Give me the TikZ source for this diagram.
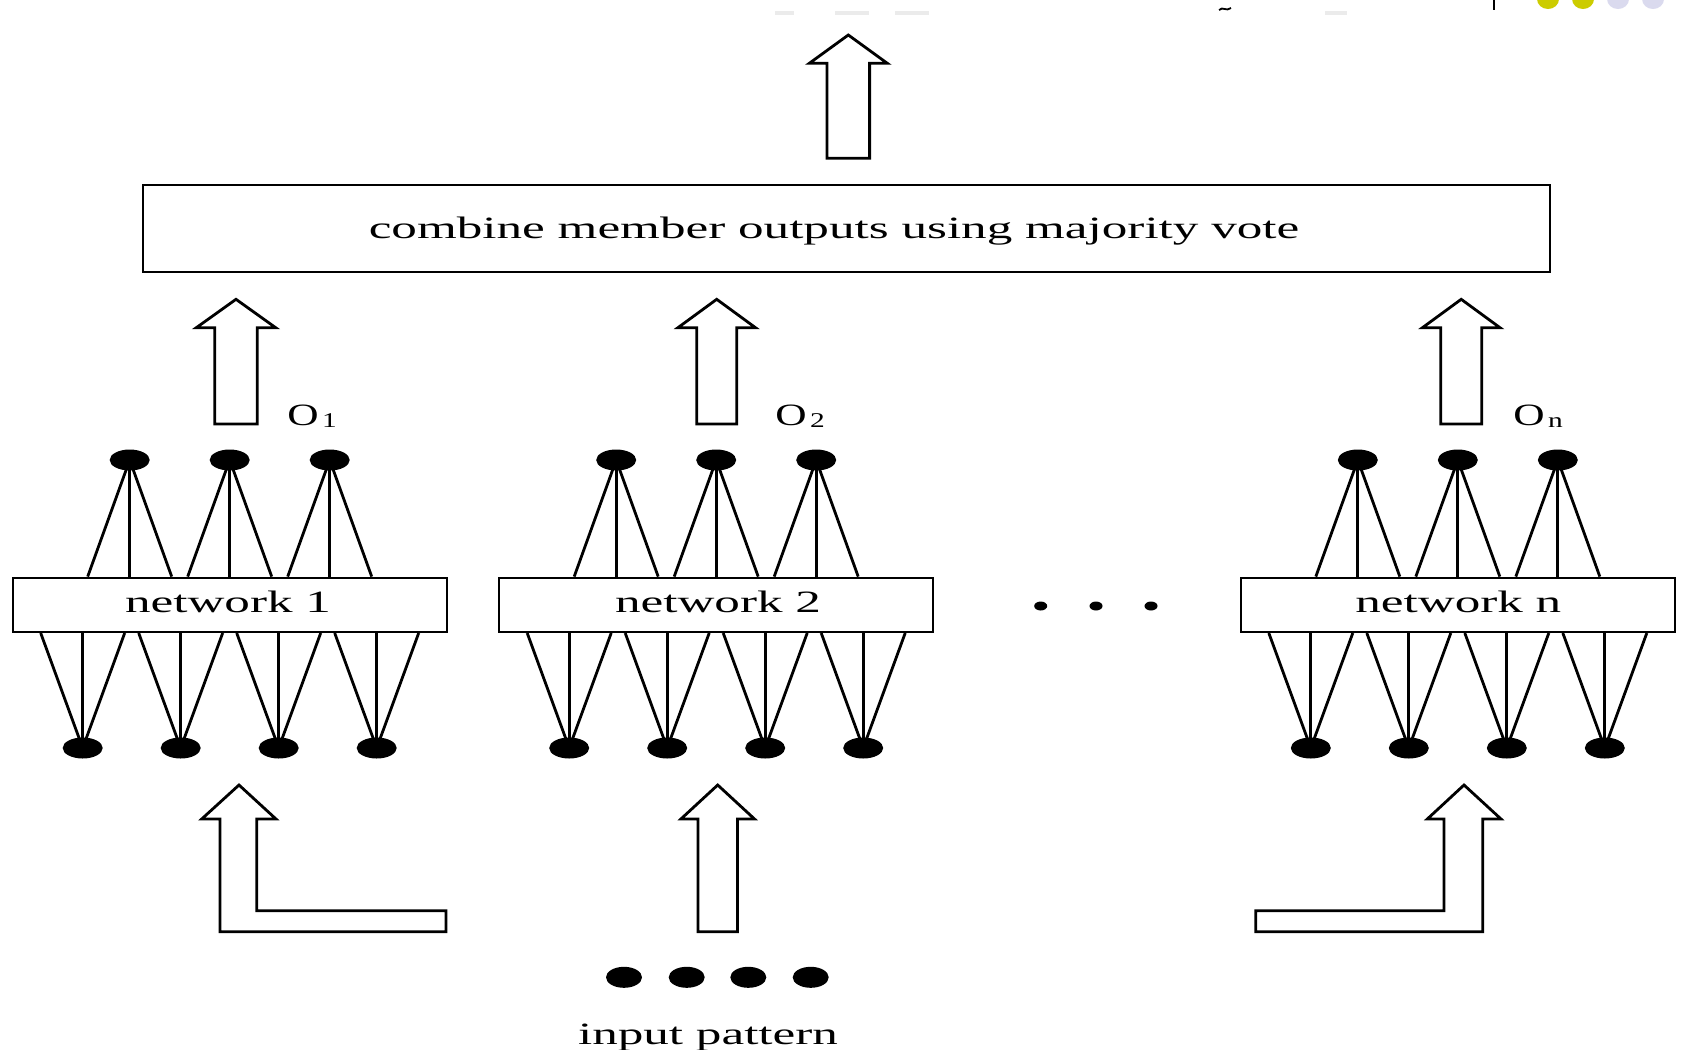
\documentclass[tikz,border=0pt]{standalone}
\usepackage{fontspec}
\setmainfont{Liberation Serif}
\usepackage{graphicx}
\usetikzlibrary{shapes.geometric,calc}

% wide serif lettering used for every label
\newcommand{\widetext}[2][15.5]{\scalebox{1.65}[1]{\fontsize{#1}{#1}\selectfont #2}}
% output label O with a subscript
\newcommand{\outlabel}[1]{\scalebox{1.4}[1]{\fontsize{15.5}{15.5}\selectfont O\hspace{1.2pt}\raisebox{-1.2pt}{\fontsize{10.5}{10.5}\selectfont #1}}}
% hollow upward block arrow: centre x, tip y, head base y, bottom y, head half width, shaft half width
\newcommand{\blockup}[6]{%
  \draw[blockarr] (#1-#6,#4) -- (#1-#6,#3) -- (#1-#5,#3) -- (#1,#2)
    -- (#1+#5,#3) -- (#1+#6,#3) -- (#1+#6,#4) -- cycle;}

\definecolor{dotolive}{RGB}{204,204,0}
\definecolor{dotlav}{RGB}{218,218,238}

\tikzset{
  neuron/.style={ellipse, fill=black, inner sep=0pt, minimum width=20pt, minimum height=10.5pt},
  inputdot/.style={ellipse, fill=black, inner sep=0pt, minimum width=18pt, minimum height=10.5pt},
  smalldot/.style={ellipse, fill=black, inner sep=0pt, minimum width=6.5pt, minimum height=4.5pt},
  netbox/.style={draw, line width=1.2pt, fill=white, inner sep=0pt,
                 minimum width=217pt, minimum height=27pt},
  combox/.style={draw, line width=1.2pt, inner sep=0pt,
                 minimum width=703.5pt, minimum height=43.5pt},
  wire/.style={line width=1.4pt},
  blockarr/.style={draw, line width=1.4pt, line join=miter, fill=white},
  lbl/.style={inner sep=0pt},
}

\begin{document}
\begin{tikzpicture}[x=0.5pt,y=-0.5pt]
\useasboundingbox (0,0) rectangle (1684,1049);
\fill[white] (0,0) rectangle (1684,1049);

% slide decoration in the top corner
\begin{scope}
  \clip (0,0) rectangle (1684,1049);
  \draw[line width=0.8pt] (1494,0) -- (1494,10);
  \fill[dotolive] (1548,-1) ellipse [x radius=5.5pt, y radius=5pt];
  \fill[dotolive] (1583,-1) ellipse [x radius=5.5pt, y radius=5pt];
  \fill[dotlav]   (1618,-1) ellipse [x radius=5.5pt, y radius=5pt];
  \fill[dotlav]   (1653,-1) ellipse [x radius=5.5pt, y radius=5pt];
  \fill[black!8] (775,11) rectangle (794,15);
  \fill[black!8] (835,11) rectangle (869,15);
  \fill[black!8] (895,11) rectangle (929,15);
  \fill[black!8] (1325,11) rectangle (1347,15);
  \draw[line width=0.9pt] (1219,10) .. controls (1223,6) and (1226,12) .. (1231,8);
\end{scope}

% final output arrow and combiner
\blockup{848.3}{35}{63.3}{158.3}{39}{21.3}
\node[combox] (comb) at (846.3,228.2) {};
\node[lbl, anchor=base] (combtext) at (834,238.5)
  {\widetext{combine member outputs using majority vote}};

% member networks
\foreach \k/\cx/\tx/\lab in {1/229.7/228/1, 2/716.2/718/2, 3/1457.8/1458.3/n} {
  \node[netbox] (net\k) at (\cx,604.8) {};
  \node[lbl, anchor=base] (nettext\k) at (\tx,612) {\widetext{network \lab}};
  \foreach \i/\dx in {1/-100, 2/0, 3/100}
    \node[neuron] (out\k\i) at (\cx+\dx,460) {};
  \foreach \i/\dx in {1/-147, 2/-49, 3/49, 4/147}
    \node[neuron] (in\k\i) at (\cx+\dx,748) {};
  \foreach \i/\dx in {1/-100, 2/0, 3/100}
    \foreach \s in {-42, 0, 42}
      \draw[wire] (out\k\i.center) -- ($(net\k.north)+(\dx+\s,0)$);
  \foreach \i/\dx in {1/-147, 2/-49, 3/49, 4/147}
    \foreach \s in {-42, 0, 42}
      \draw[wire] (in\k\i.center) -- ($(net\k.south)+(\dx+\s,0)$);
}

% member outputs
\blockup{236}{299.3}{327.7}{424}{39.7}{21.2}
\blockup{716.7}{299.3}{327.7}{424}{38.8}{20}
\blockup{1461.2}{299.3}{327.7}{424}{38.8}{20.5}
\node[lbl, anchor=base west] (o1) at (287,425) {\outlabel{1}};
\node[lbl, anchor=base west] (o2) at (775,425) {\outlabel{2}};
\node[lbl, anchor=base west] (on) at (1513,425) {\outlabel{n}};

% ellipsis between the networks
\node[smalldot] (e1) at (1040.7,606) {};
\node[smalldot] (e2) at (1096,606) {};
\node[smalldot] (e3) at (1151,606) {};

% input pattern fed to every network
\draw[blockarr] (220,931.7) -- (220,819) -- (201.7,819) -- (239,785) -- (276,819)
  -- (256.7,819) -- (256.7,910.7) -- (446,910.7) -- (446,931.7) -- cycle;
\blockup{717.7}{785}{819}{931.7}{36.8}{19.7}
\draw[blockarr] (1482.7,931.7) -- (1482.7,819) -- (1501,819) -- (1464,785) -- (1427.3,819)
  -- (1444,819) -- (1444,910.7) -- (1255.7,910.7) -- (1255.7,931.7) -- cycle;

\foreach \i/\x in {1/624, 2/686.7, 3/748.3, 4/810.7}
  \node[inputdot] (ip\i) at (\x,977.3) {};
\node[lbl, anchor=base] (iptext) at (708,1044) {\widetext{input pattern}};
\end{tikzpicture}
\end{document}
